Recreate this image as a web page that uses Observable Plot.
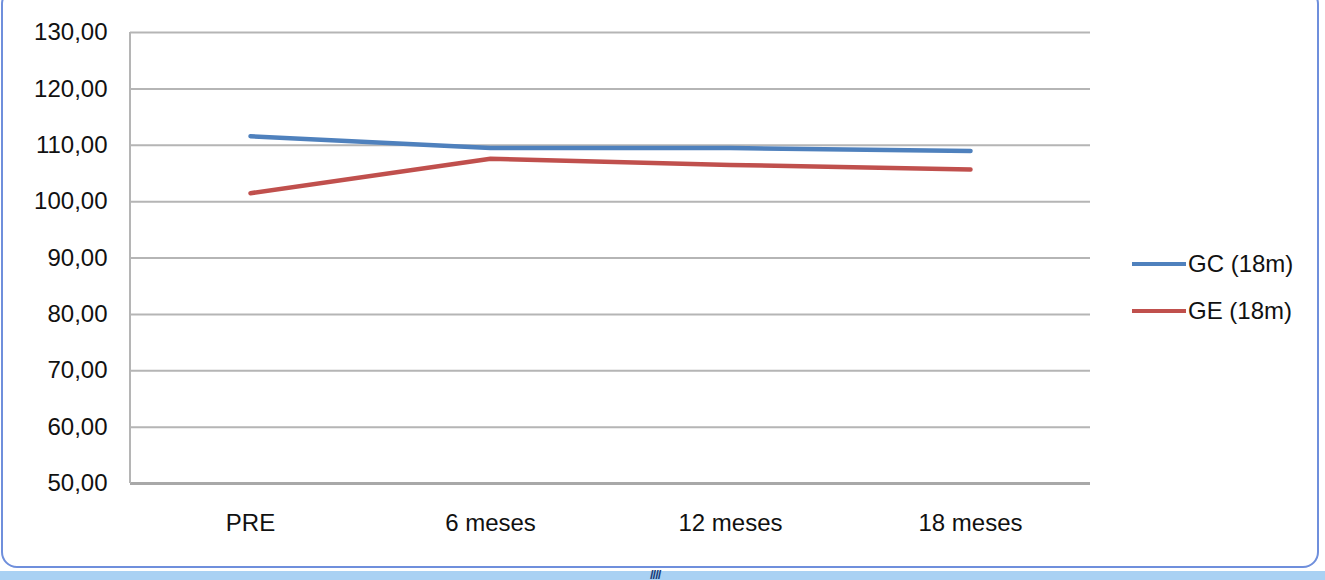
<!DOCTYPE html>
<html>
<head>
<meta charset="utf-8">
<script src="https://cdn.jsdelivr.net/npm/d3@7"></script>
<script src="https://cdn.jsdelivr.net/npm/@observablehq/plot@0.6"></script>
<style>
  html, body { margin: 0; padding: 0; background: #fff; }
  body { width: 1325px; height: 580px; overflow: hidden; position: relative; font-family: "Liberation Sans", Arial, sans-serif; }
  #frame { position: absolute; left: 1px; top: -12px; width: 1318px; height: 580px; border: 2px solid #6f8fdc; border-radius: 16px; box-sizing: border-box; }
  #strip { position: absolute; left: 0; top: 570px; width: 1325px; height: 10px; background: #a9d1f3; border-top: 1px solid #fff; }
  #grip { position: absolute; left: 650px; top: 570px; font-size: 13px; line-height: 10px; color: #1c3f7a; font-weight: bold; letter-spacing: -1px; }
  #chart { position: absolute; left: 0; top: 0; }
  .leg { position: absolute; left: 1132px; display: flex; align-items: center; font-size: 24px; color: #111; }
  .leg .sw { width: 54px; height: 4px; margin-right: 2px; }
</style>
</head>
<body>
<div id="frame"></div>
<div id="strip"></div>
<div id="grip">////</div>
<div id="chart"></div>
<div class="leg" style="top:250px"><div class="sw" style="background:#4f81bd"></div><span>GC (18m)</span></div>
<div class="leg" style="top:297px"><div class="sw" style="background:#c0504d"></div><span>GE (18m)</span></div>
<script>
const categories = ["PRE", "6 meses", "12 meses", "18 meses"];
const gcValues = [111.6, 109.5, 109.5, 109.0];
const geValues = [101.5, 107.6, 106.5, 105.7];
const yTicks = [50, 60, 70, 80, 90, 100, 110, 120, 130];
const seriesNames = ["GC (18m)", "GE (18m)"];
const seriesColors = ["#4f81bd", "#c0504d"];

const data = [
  ...categories.map((c, i) => ({cat: c, value: gcValues[i], series: seriesNames[0]})),
  ...categories.map((c, i) => ({cat: c, value: geValues[i], series: seriesNames[1]}))
];

const fmt = d => d.toFixed(2).replace(".", ",");

const chart = Plot.plot({
  width: 1325,
  height: 580,
  marginLeft: 130,
  marginRight: 235,
  marginTop: 32,
  marginBottom: 97,
  style: {fontFamily: "'Liberation Sans', Arial, sans-serif", fontSize: "24px", color: "#111", background: "transparent"},
  x: {type: "point", domain: categories, padding: 0.5, label: null},
  y: {domain: [50, 130], ticks: yTicks, tickFormat: fmt, label: null},
  color: {domain: seriesNames, range: seriesColors},
  marks: [
    Plot.ruleY(yTicks, {stroke: "#b5b5b5", strokeWidth: 2}),
    Plot.ruleY([50], {stroke: "#a8a8a8", strokeWidth: 3}),
    Plot.line(data, {x: "cat", y: "value", z: "series", stroke: "series", strokeWidth: 4.5, curve: "linear"}),
    Plot.axisY({ticks: yTicks, tickFormat: fmt, tickSize: 0, tickPadding: 23, fontSize: 24}),
    Plot.axisX({tickSize: 0, tickPadding: 30, fontSize: 24})
  ]
});
// vertical value axis line along the left edge of the plot area
const ys = chart.scale("y");
d3.select(chart).append("line")
  .attr("x1", 130).attr("x2", 130)
  .attr("y1", ys.apply(130)).attr("y2", ys.apply(50))
  .attr("stroke", "#b5b5b5").attr("stroke-width", 2);
document.getElementById("chart").appendChild(chart);
</script>
</body>
</html>
